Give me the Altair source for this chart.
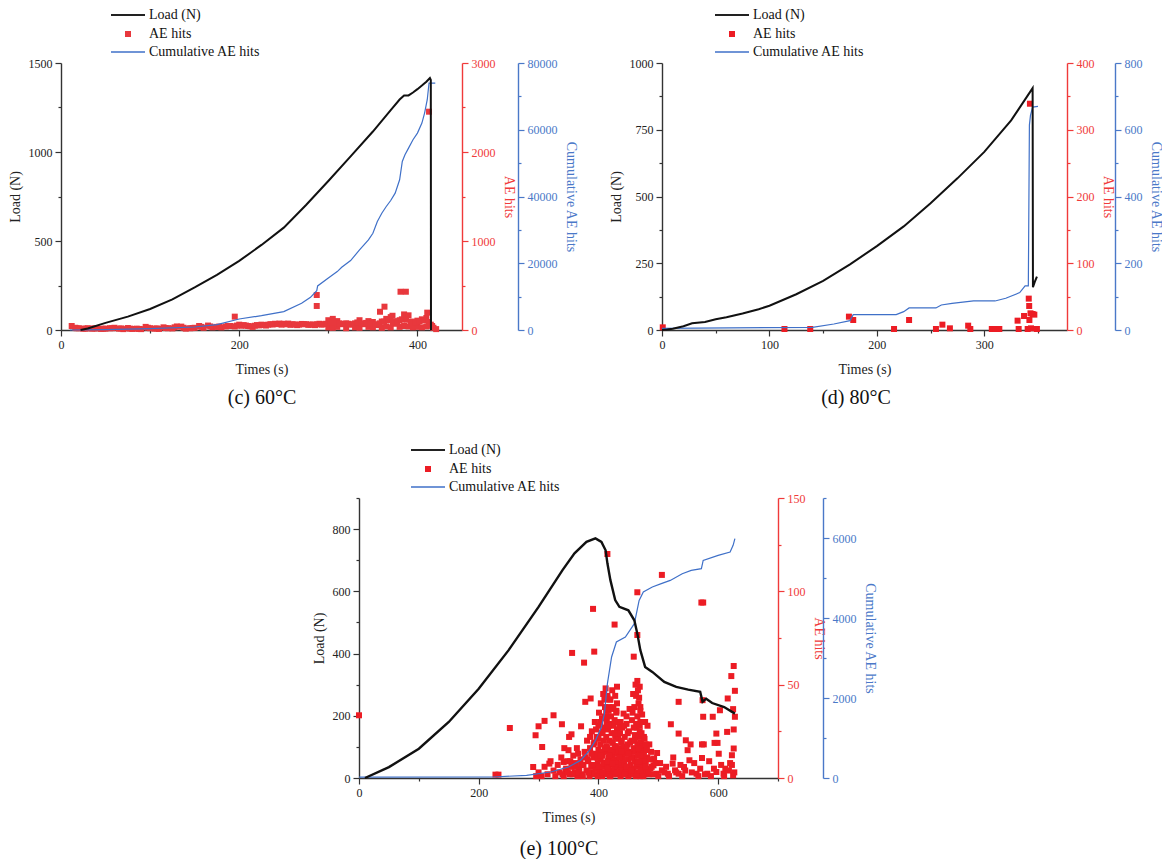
import altair as alt
import pandas as pd

FONT = "Liberation Serif"
RED_AX = "#F03A3A"
BLUE_AX = "#4A78C8"
BLUE_LINE = "#3F70C8"

# ---------------- (c) 60°C ----------------
c_load_t = [22, 30, 50, 75, 100, 125, 150, 175, 200, 225, 250, 275, 300, 325, 350, 370, 380, 385, 390, 395, 400, 405, 410, 414, 415, 415.2]
c_load_v = [0, 8, 40, 75, 118, 172, 239, 310, 388, 478, 575, 702, 837, 975, 1115, 1235, 1295, 1318, 1318, 1334, 1353, 1373, 1395, 1416, 1405, 0]

c_cum_t = [10, 50, 100, 150, 175, 200, 225, 250, 270, 280, 287, 288, 300, 310, 315, 325, 335, 345, 350, 355, 360, 365, 370, 375, 380, 383, 386, 390, 395, 400, 405, 408, 411, 413, 420]
c_cum_v = [0, 100, 400, 900, 1600, 3300, 4300, 5500, 8000, 9800, 11800, 13200, 15600, 17500, 18800, 20800, 24000, 27000, 29000, 32500, 35000, 37000, 38800, 41000, 45000, 50500, 52500, 54500, 57000, 59000, 62000, 65000, 69000, 74000, 74000]

c_ae_t = [12, 16, 20, 25, 30, 35, 40, 45, 50, 55, 60, 65, 70, 75, 80, 85, 90, 95, 100, 105,
          110, 115, 120, 125, 130, 135, 140, 145, 150, 155, 160, 165, 170, 175, 180, 185, 190, 195, 200, 205,
          210, 215, 220, 225, 230, 235, 240, 245, 250, 255, 260, 265, 270, 275, 280, 285, 290, 295, 300, 305,
          310, 315, 320, 325, 330, 335, 340, 345, 350, 355, 360, 365, 370, 375, 380, 385, 390, 395, 400, 405,
          410, 415, 418, 421,
          300, 305, 310, 320, 330, 335, 345, 350, 360, 365, 370, 380, 385, 390, 395, 400, 405, 410,
          287, 287, 195, 381, 387, 363, 358, 372, 411, 413]
c_ae_v = [45, 25, 20, 15, 20, 15, 18, 12, 15, 20, 25, 15, 10, 22, 12, 15, 10, 35, 20, 15,
          12, 30, 20, 18, 40, 38, 15, 20, 25, 45, 25, 50, 30, 35, 30, 40, 45, 40, 60, 55,
          45, 35, 55, 60, 50, 65, 70, 72, 70, 72, 65, 55, 68, 65, 60, 55, 70, 65, 110, 125,
          100, 65, 75, 60, 75, 110, 65, 100, 90, 55, 95, 125, 145, 70, 110, 175, 165, 95, 105, 120,
          135, 60, 25, 10,
          30, 25, 35, 20, 30, 25, 35, 30, 25, 40, 30, 35, 45, 40, 30, 35, 30, 40,
          393, 270, 150, 430, 430, 262, 205, 160, 195, 2453]
c_ae2_t = [17.5, 27.5, 37.5, 47.5, 57.5, 67.5, 77.5, 87.5, 97.5, 107.5, 117.5, 127.5, 137.5, 147.5, 157.5,
           167.5, 177.5, 187.5, 197.5, 202.5, 207.5, 212.5, 217.5, 222.5, 227.5, 232.5, 237.5, 242.5, 247.5,
           252.5, 257.5, 262.5, 267.5, 272.5, 277.5, 282.5, 287.5, 292.5, 297.5, 302.5, 307.5, 312.5, 317.5,
           322.5, 327.5, 332.5, 337.5, 342.5, 347.5, 352.5, 357.5, 362.5, 367.5, 372.5, 377.5, 382.5, 387.5,
           392.5, 397.5, 402.5, 407.5, 412.5, 416.5]
c_ae2_v = [20, 15, 18, 14, 20, 18, 15, 12, 25, 18, 22, 30, 25, 22, 35, 40, 38, 45, 50,
           48, 50, 42, 48, 52, 56, 60, 62, 66, 60, 64, 58, 62, 60, 66, 58, 62, 65, 60, 70,
           80, 90, 75, 68, 70, 65, 85, 75, 80, 70, 65, 75, 95, 110, 90, 100, 120, 115, 90, 85,
           100, 110, 90, 45]

# ---------------- (d) 80°C ----------------
d_load_t = [0, 5, 10, 20, 28, 40, 50, 60, 75, 90, 100, 125, 150, 175, 200, 225, 250, 275, 300, 325, 345, 345.3, 347, 349]
d_load_v = [0, 2, 5, 14, 25, 30, 40, 48, 62, 78, 91, 134, 184, 246, 314, 388, 475, 568, 667, 785, 906, 160, 180, 200]

d_cum_t = [0, 140, 160, 175, 178, 218, 225, 230, 255, 260, 270, 290, 310, 320, 333, 338, 341, 342, 343, 345, 350]
d_cum_v = [5, 8, 18, 28, 46, 46, 55, 66, 66, 75, 80, 87, 87, 95, 112, 132, 132, 614, 643, 668, 670]

d_ae_t = [0.7, 114, 138, 174, 178, 216, 230, 255, 261, 268, 285, 287, 307, 310.6, 314, 331, 332, 337,
          341.4, 341.8, 342, 342.5, 343, 345, 346.6, 340.4, 343.5, 349]
d_ae_v = [4, 1.5, 1.5, 20, 15, 1.5, 15, 1.5, 8, 2.5, 6.5, 1.5, 1.5, 1.5, 1.5, 14, 1.5, 21,
          47, 36, 15, 339, 25, 24, 23, 1.5, 2.5, 1.5]

# ---------------- (e) 100°C ----------------
e_load_t = [10, 50, 100, 150, 200, 250, 300, 340, 360, 380, 395, 405, 412, 415, 420, 428, 435, 450, 460, 465, 470, 478, 490, 510, 530, 550, 570, 574, 580, 590, 610, 628]
e_load_v = [0, 35, 94, 180, 287, 411, 550, 668, 722, 759, 770, 759, 732, 690, 636, 572, 550, 539, 507, 464, 411, 357, 341, 309, 293, 284, 277, 245, 255, 241, 228, 207]

e_cum_t = [0, 225, 280, 320, 350, 370, 385, 395, 405, 410, 415, 422, 430, 445, 460, 468, 475, 490, 505, 520, 540, 555, 572, 575, 600, 620, 625, 628]
e_cum_v = [20, 25, 67, 150, 275, 440, 690, 940, 1275, 1608, 2358, 3025, 3400, 3525, 3858, 4440, 4650, 4775, 4858, 4940, 5108, 5190, 5233, 5440, 5566, 5650, 5816, 5983]

e_ae_t = [0, 228, 233, 252, 291, 295, 300, 306, 310, 318, 325, 339, 342, 350, 351, 356, 355, 366, 371, 376,
          378, 387, 391, 393, 415, 427, 431, 442, 459, 465, 465, 465, 469, 506, 572, 575, 574, 521, 534, 534,
          575, 591, 597, 603, 616, 622, 626, 628, 628, 625, 626, 626, 623, 623, 625, 615, 612, 601, 594, 599,
          573, 576, 573, 554, 549, 546, 552, 543, 524, 528, 498, 493, 492, 497, 506, 516, 534, 564, 582, 597, 609,
          410, 415, 420, 418, 413, 430, 437, 447, 452, 458, 462, 466, 468, 470, 473, 478, 482, 470, 476, 485, 488,
          345, 348, 352, 355, 358, 360, 362, 365, 368, 370, 372, 375, 377, 380, 381, 383, 385, 386, 388, 389,
          390, 392, 393, 394, 395, 396, 397,
          398, 399, 400, 400, 401, 402, 403, 404, 404, 405, 406, 406, 407, 408, 408, 409, 410, 410, 411, 411,
          412, 412, 413, 414, 414, 415, 415, 416, 416, 417, 417, 418, 418, 419, 419, 420, 420, 421, 421, 422,
          422, 423, 423, 424, 424, 425, 425, 426, 426, 427, 427, 428, 428, 429, 429, 430, 430, 431, 432, 432,
          433, 434, 434, 435, 436, 436, 437, 437, 438, 439, 440, 440,
          441, 442, 443, 444, 445, 446, 447, 448, 449, 450, 450, 451, 452, 453, 454, 455, 456, 456, 457, 458,
          459, 460, 460, 461, 462, 462, 463, 464, 464, 465, 465, 466, 466, 467, 467, 468, 469, 469, 470, 470,
          471, 472, 472, 473, 474, 474, 475, 476, 477, 478, 479, 480, 482, 484,
          296, 300, 305, 310, 315, 320, 325, 328, 332, 335, 338, 340, 343,
          487, 500, 503, 510, 513, 518, 525, 530, 537, 540, 545, 556, 560, 567, 570, 578, 585, 588, 593, 605,
          610, 618, 620, 627]
e_ae_v = [33.6, 1.8, 1.8, 26.8, 5.9, 22.9, 27.7, 16.6, 30.6, 7.7, 33.6, 28.8, 8.6, 14.9, 22, 67, 23.4, 13, 27.7, 61.8,
          40.8, 42.6, 90.6, 67.7, 120, 82.2, 48.9, 34.5, 65, 99.5, 76.6, 52, 48.9, 108.8, 94, 94, 41.7, 28.8, 40.8, 23.8,
          32.8, 32.8, 23.8, 36.3, 42.6, 54.6, 60, 46.7, 32.8, 36.9, 26, 15.8, 12.2, 7, 1.4, 24.7, 5, 13, 18.8, 18.8,
          18, 18, 10.7, 18, 14.9, 20.2, 9.5, 5.9, 7.7, 4.1, 13.4, 10.4, 6.8, 2.3, 4.1, 2.3, 2.3, 2.3, 2.3, 3.2, 2.3,
          42, 43, 42, 38, 36, 36, 30, 33, 37, 45, 50, 47, 43, 38, 34, 30, 28, 30, 22, 18, 14,
          4, 9, 2, 6, 12, 3, 8, 1, 5, 10, 2, 7, 14, 4, 20, 9, 1, 16, 6, 25,
          3, 11, 19, 30, 5, 13, 22,
          2, 8, 15, 28, 35, 4, 18, 10, 40, 24, 1, 32, 12, 6, 45, 20, 3, 27, 14, 38,
          8, 48, 22, 2, 30, 16, 44, 6, 26, 11, 36, 4, 20, 42, 9, 29, 1, 15, 33, 7,
          24, 47, 12, 3, 19, 38, 28, 9, 14, 5, 31, 22, 44, 2, 17, 10, 35, 26, 6, 13,
          21, 3, 30, 16, 8, 24, 1, 12, 19, 5, 27, 11,
          2, 17, 8, 22, 4, 13, 29, 6, 18, 1, 10, 25, 3, 14, 7, 20, 2, 31, 11, 5,
          16, 38, 9, 23, 2, 14, 44, 6, 27, 18, 33, 3, 12, 22, 40, 8, 28, 15, 1, 36,
          19, 6, 24, 11, 3, 17, 9, 14, 2, 7, 18, 4, 11, 2,
          1, 3, 1, 6, 2, 9, 4, 1, 7, 3, 11, 2, 16,
          5, 1, 8, 3, 6, 1, 11, 3, 7, 1, 4, 3, 8, 1, 5, 2, 9, 1, 5, 7,
          1, 4, 8, 3]
e_ae2_t = [382, 384, 386, 388, 390, 392, 394, 396, 398, 400,
           401, 403, 405, 407, 409, 411, 413, 415, 417, 419, 421, 423, 425, 427, 429, 431, 433, 435, 437, 439,
           441, 443, 445, 447, 449, 451, 453, 455, 457, 459, 461, 463, 465, 467, 469, 471, 473, 475, 477, 479,
           481, 483, 486, 489, 492, 495,
           399, 403, 407, 411, 415, 419, 423, 427, 431, 435, 439, 443, 447, 451, 455, 459, 463, 467, 471, 475, 479,
           342, 346, 349, 353, 357, 361, 364, 367, 371, 374, 378]
e_ae2_v = [10, 3, 22, 13, 7, 18, 2, 26, 11, 21,
           6, 30, 14, 25, 8, 33, 17, 5, 28, 12, 37, 19, 2, 24, 9, 40, 15, 27, 4, 20,
           10, 28, 3, 15, 24, 6, 19, 11, 35, 2, 20, 29, 8, 16, 25, 4, 30, 13, 21, 9,
           15, 3, 10, 6, 2, 8,
           1, 12, 3, 16, 9, 1, 8, 17, 3, 11, 14, 2, 6, 13, 4, 27, 1, 9, 12, 1, 6,
           1, 5, 3, 9, 2, 6, 16, 3, 7, 1, 11]


def axis(title, major, minor, orient, dom_color, lab_color, offset=0, title_pad=6):
    allv = sorted(set(major + minor))
    ms = "[" + ",".join(str(m) for m in major) + "]"
    return alt.Axis(
        title=title, values=allv, orient=orient, offset=offset, format="d",
        labelExpr=f"indexof({ms}, datum.value) >= 0 ? datum.label : ''",
        tickSize={"condition": {"test": f"indexof({ms}, datum.value) < 0", "value": 3}, "value": 6},
        domainColor=dom_color, tickColor=dom_color, labelColor=lab_color, titleColor=lab_color,
        domainWidth=1.4, tickWidth=1.2, labelFont=FONT, titleFont=FONT, labelFontSize=12,
        titleFontSize=14, titleFontWeight="normal", labelPadding=3, titlePadding=title_pad,
        grid=False, labelFlush=False, labelOverlap=False)


def panel(w, h, xmax, xmaj, xmin, lt, lv, ct, cv, at, av,
          lmax, lmaj, lmin, amax, amaj, amin, cmax, cmaj, cmin,
          cum_off, red, sq, lw, caption, cap_x, cap_dy, leg_x):
    assert len(lt) == len(lv) and len(ct) == len(cv) and len(at) == len(av)
    ldf = pd.DataFrame({"t": lt, "v": lv})
    cdf = pd.DataFrame({"t": ct, "v": cv})
    adf = pd.DataFrame({"t": at, "v": av})
    X = alt.X("t:Q", scale=alt.Scale(domain=[0, xmax], nice=False, zero=False),
              axis=axis("Times (s)", xmaj, xmin, "bottom", "#333", "#222", title_pad=12))
    ae = alt.Chart(adf).mark_square(size=sq, color=red, opacity=1).encode(
        x=X, y=alt.Y("v:Q", scale=alt.Scale(domain=[0, amax], nice=False),
                     axis=axis("AE hits", amaj, amin, "right", RED_AX, RED_AX)))
    cum = alt.Chart(cdf).mark_line(color=BLUE_LINE, strokeWidth=1.2).encode(
        x=X, y=alt.Y("v:Q", scale=alt.Scale(domain=[0, cmax], nice=False),
                     axis=axis("Cumulative AE hits", cmaj, cmin, "right", BLUE_AX, BLUE_AX, offset=cum_off)))
    load = alt.Chart(ldf).mark_line(color="#111", strokeWidth=lw).encode(
        x=X, y=alt.Y("v:Q", scale=alt.Scale(domain=[0, lmax], nice=False),
                     axis=axis("Load (N)", lmaj, lmin, "left", "#333", "#222")))
    one = pd.DataFrame({"a": [0]})
    leg = [
        alt.Chart(one).mark_rule(color="#222", strokeWidth=2).encode(
            x=alt.value(leg_x), x2=alt.value(leg_x + 34), y=alt.value(-48)),
        alt.Chart(one).mark_square(size=36, color=red, opacity=1).encode(
            x=alt.value(leg_x + 17), y=alt.value(-29)),
        alt.Chart(one).mark_rule(color=BLUE_LINE, strokeWidth=1.5).encode(
            x=alt.value(leg_x), x2=alt.value(leg_x + 34), y=alt.value(-11)),
    ]
    for txt, yy in [("Load (N)", -48), ("AE hits", -29), ("Cumulative AE hits", -11)]:
        leg.append(alt.Chart(one).mark_text(text=txt, font=FONT, fontSize=14, align="left",
                                            baseline="middle", color="#111").encode(
            x=alt.value(leg_x + 38), y=alt.value(yy)))
    cap = alt.Chart(one).mark_text(text=caption, font=FONT, fontSize=20, align="center",
                                   baseline="middle", color="#111").encode(
        x=alt.value(cap_x), y=alt.value(h + cap_dy))
    return alt.layer(ae, cum, load, *leg, cap).resolve_scale(y="independent").properties(
        width=w, height=h)


pc = panel(401, 267, 450, [0, 200, 400], [100, 300],
           c_load_t, c_load_v, c_cum_t, c_cum_v, c_ae_t + c_ae2_t, c_ae_v + c_ae2_v,
           1500, [0, 500, 1000, 1500], [250, 750, 1250],
           3000, [0, 1000, 2000, 3000], [500, 1500, 2500],
           80000, [0, 20000, 40000, 60000, 80000], [10000, 30000, 50000, 70000],
           56, "#E8383D", 36, 2, "(c) 60°C", 201, 68, 50)

pd_ = panel(405, 267, 377, [0, 100, 200, 300], [50, 150, 250, 350],
            d_load_t, d_load_v, d_cum_t, d_cum_v, d_ae_t, d_ae_v,
            1000, [0, 250, 500, 750, 1000], [125, 375, 625, 875],
            400, [0, 100, 200, 300, 400], [50, 150, 250, 350],
            800, [0, 200, 400, 600, 800], [100, 300, 500, 700],
            48, "#EC1C24", 36, 2, "(d) 80°C", 194, 68, 53)

pe = panel(419, 280, 700, [0, 200, 400, 600], [100, 300, 500, 700],
           e_load_t, e_load_v, e_cum_t, e_cum_v, e_ae_t + e_ae2_t, e_ae_v + e_ae2_v,
           900, [0, 200, 400, 600, 800], [100, 300, 500, 700, 900],
           150, [0, 50, 100, 150], [25, 75, 125],
           7000, [0, 2000, 4000, 6000], [1000, 3000, 5000, 7000],
           45, "#EC1C24", 36, 2.4, "(e) 100°C", 200, 71, 52)

spacer = alt.Chart(pd.DataFrame({"a": [0]})).mark_point(opacity=0).encode(
    x=alt.value(0), y=alt.value(0)).properties(width=247, height=10)

top = alt.hconcat(pc, pd_, spacing=32)
bottom = alt.hconcat(spacer, pe, spacing=4)
chart = alt.vconcat(top, bottom, spacing=35).properties(
    padding={"left": 0, "top": 0, "right": 0, "bottom": 0}
).configure(font=FONT, background="white").configure_view(strokeWidth=0, stroke="transparent")

chart.save("out.html", embed_options={"renderer": "svg", "actions": False})
